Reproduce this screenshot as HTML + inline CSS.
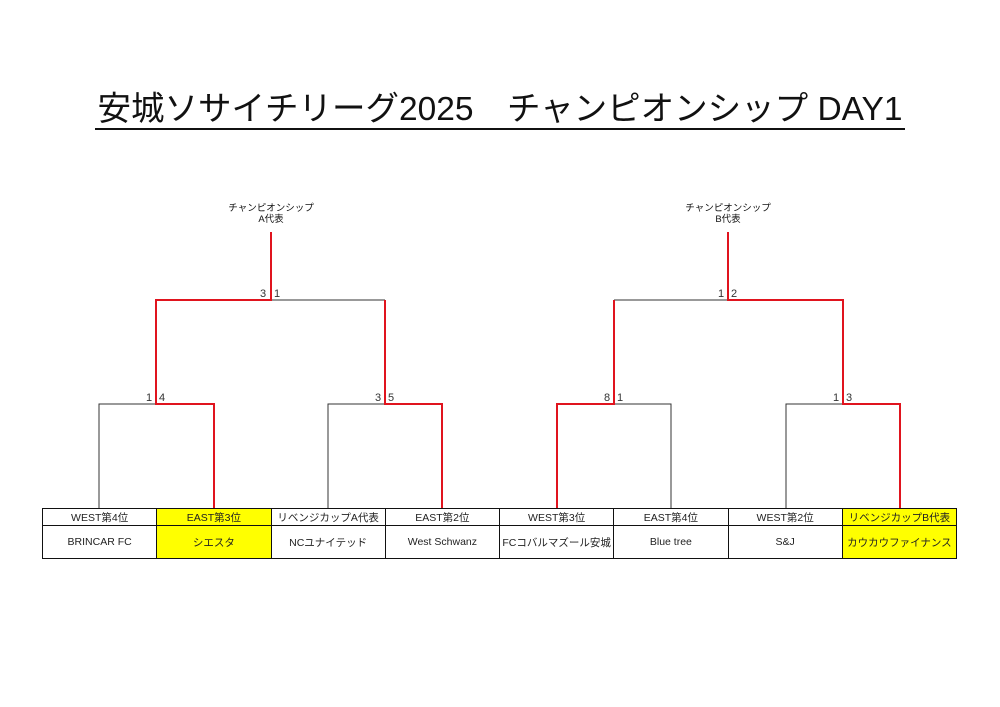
<!DOCTYPE html>
<html><head><meta charset="utf-8"><style>
body{margin:0;width:1000px;height:707px;background:#fff;position:relative;font-family:"Liberation Sans","Noto Sans CJK JP",sans-serif;overflow:hidden}
.t{position:absolute;left:0;width:1000px;top:91px;text-align:center;font-size:33.5px;line-height:38px;color:#111}
.t span{border-bottom:2px solid #111;padding:0 2px}
table{position:absolute;left:42px;top:508px;border-collapse:collapse;width:915px;table-layout:fixed}
td{border:1.5px solid #111;text-align:center;font-size:10.5px;color:#222;padding:0;white-space:nowrap;overflow:hidden}
tr.a td{height:16px;border-bottom:1px solid #111}
tr.b td{height:32px;font-size:10.5px}
.y{background:#ffff00}
.s{position:absolute;font-size:11px;color:#333;line-height:11px}
.l{position:absolute;font-size:9.5px;line-height:11px;text-align:center;width:120px;color:#111}
</style></head><body>
<div class="t"><span>安城ソサイチリーグ2025　チャンピオンシップ DAY1</span></div>
<div class="l" style="left:211px;top:203px">チャンピオンシップ<br>A代表</div>
<div class="l" style="left:668px;top:203px">チャンピオンシップ<br>B代表</div>
<svg width="1000" height="707" style="position:absolute;left:0;top:0">
<g fill="none" stroke-width="1" stroke="#333">
<path d="M271 300H385M99 508V404H156M328 508V404H385M614 300H728M671 508V404H614M786 508V404H843"/>
</g>
<g fill="none" stroke-width="2" stroke="#e0141e">
<path d="M271 232V300H156V404H214V508M385 300V404H442V508M728 232V300H843V404H900V508M614 300V404H557V508"/>
</g>
</svg>
<div class="s" style="left:260px;top:289px">3</div><div class="s" style="left:274px;top:289px">1</div>
<div class="s" style="left:146px;top:393px">1</div><div class="s" style="left:159px;top:393px">4</div>
<div class="s" style="left:375px;top:393px">3</div><div class="s" style="left:388px;top:393px">5</div>
<div class="s" style="left:718px;top:289px">1</div><div class="s" style="left:731px;top:289px">2</div>
<div class="s" style="left:604px;top:393px">8</div><div class="s" style="left:617px;top:393px">1</div>
<div class="s" style="left:833px;top:393px">1</div><div class="s" style="left:846px;top:393px">3</div>
<table>
<tr class="a"><td>WEST第4位</td><td class="y">EAST第3位</td><td>リベンジカップA代表</td><td>EAST第2位</td><td>WEST第3位</td><td>EAST第4位</td><td>WEST第2位</td><td class="y">リベンジカップB代表</td></tr>
<tr class="b"><td>BRINCAR FC</td><td class="y">シエスタ</td><td>NCユナイテッド</td><td>West Schwanz</td><td>FCコバルマズール安城</td><td>Blue tree</td><td>S&amp;J</td><td class="y">カウカウファイナンス</td></tr>
</table>
</body></html>
